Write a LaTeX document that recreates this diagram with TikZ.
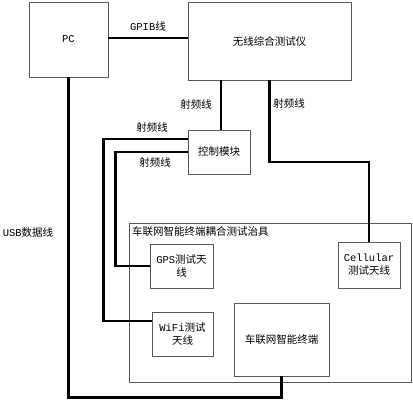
\documentclass[tikz,border=0pt]{standalone}
\usepackage{fontspec}
\setmainfont{Liberation Mono}
\newfontfamily\cjk{Noto Sans CJK SC}
\usepackage{tikz}
\usetikzlibrary{calc,positioning}

\begin{document}
\begin{tikzpicture}[x=1pt,y=-1pt,
    box/.style={draw=black!65,line width=0.9pt,inner sep=1pt,align=center,font=\fontsize{10.5}{13}\selectfont},
    wire/.style={line width=2.2pt,black},
    lbl/.style={font=\fontsize{10.5}{13}\selectfont,inner sep=0pt}]
            \useasboundingbox (0,0) rectangle (413,400);

            \node[box,minimum width=79pt,minimum height=75pt] (pc) at (68.5,39.5) {PC};
            \node[box,minimum width=163pt,minimum height=78pt] (tester) at (269.5,41) {\cjk 无线综合测试仪};
            \node[box,minimum width=62pt,minimum height=44pt] (ctrl) at (219,152) {\cjk 控制模块};

            \node[box,minimum width=282pt,minimum height=159pt] (jig) at (270,302.5) {};
            \node[lbl,anchor=west] (jigname) at (132,232) {\cjk 车联网智能终端耦合测试治具};

            \node[box,minimum width=63pt,minimum height=44pt] (gps) at (181.5,266) {GPS{\cjk 测试天}\\{\cjk 线}};
            \node[box,minimum width=61pt,minimum height=44pt] (wifi) at (182.5,334) {WiFi{\cjk 测试}\\{\cjk 天线}};
            \node[box,minimum width=95pt,minimum height=73pt] (term) at (281.5,339.5) {\cjk 车联网智能终端};
            \node[box,minimum width=62pt,minimum height=46pt] (cell) at (369,265) {Cellular\\{\cjk 测试天线}};

            % connections
            \draw[wire] ([yshift=1.5pt]pc.east) -- ([yshift=1.5pt]pc.east -| tester.west);
            \draw[wire] (ctrl.north -| 221,0) -- (tester.south -| 221,0);
            \coordinate (cellbend) at (269.5,162);
            \draw[wire] (tester.south) -- (cellbend) -| (cell.north);
            \draw[wire] (ctrl.west) -- ++(-72,0) |- (gps.west);
            \draw[wire] ([yshift=13pt]ctrl.west) -- ++(-84,0) |- ([yshift=13pt]wifi.west);
            \draw[wire] (pc.south) -- ++(0,320) -| (term.south);

            % labels
            \node[lbl] (gpiblbl) at (148,26) {GPIB{\cjk 线}};
            \node[lbl] (rf1) at (196,105) {\cjk 射频线};
            \node[lbl] (rf2) at (289,104) {\cjk 射频线};
            \node[lbl] (rf3) at (152,128) {\cjk 射频线};
            \node[lbl] (rf4) at (155,163) {\cjk 射频线};
            \node[lbl] (usblbl) at (28,233) {USB{\cjk 数据线}};
\end{tikzpicture}
\end{document}
